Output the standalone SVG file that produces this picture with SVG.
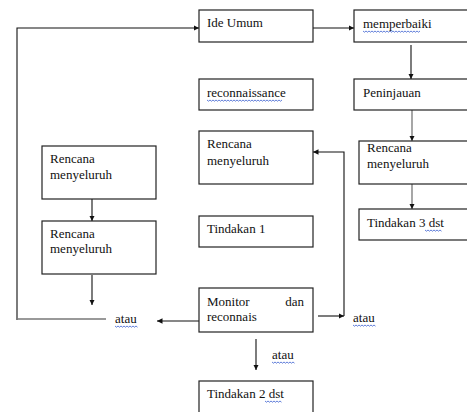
<svg xmlns="http://www.w3.org/2000/svg" width="467" height="412" viewBox="0 0 467 412">
<style>
.box{fill:#fff;stroke:#222;stroke-width:1.2}
.t{font-family:'Liberation Serif','DejaVu Serif',serif;font-size:13px;fill:#111}
.ln{fill:none;stroke:#111;stroke-width:1.1}
.gl{fill:none;stroke:#777;stroke-width:1.3}
.sp{fill:none;stroke:#3a5fd0;stroke-width:0.8}
</style>
<defs>
<marker id="ah" viewBox="0 0 10 10" refX="10" refY="5" markerWidth="5.5" markerHeight="5.5" markerUnits="userSpaceOnUse" orient="auto">
<path d="M0,0 L10,5 L0,10 z" fill="#111"/>
</marker>
</defs>
<rect width="467" height="412" fill="#fff"/>
<g id="connectors">
<path class="ln" d="M17,320 V28 H199" marker-end="url(#ah)"/>
<path class="gl" d="M17,319 H106"/>
<path class="ln" d="M313,28 H354" marker-end="url(#ah)"/>
<path class="ln" d="M411,45 V79" marker-end="url(#ah)"/>
<path class="gl" d="M412,104 V141" marker-end="url(#ah)"/>
<path class="gl" d="M412,180 V209" marker-end="url(#ah)"/>
<path class="ln" d="M92,199 V221" marker-end="url(#ah)"/>
<path class="ln" d="M92,275 V305" marker-end="url(#ah)"/>
<path class="ln" d="M199,321 H157" marker-end="url(#ah)"/>
<path class="ln" d="M318,316 H344" marker-end="url(#ah)"/>
<path class="ln" d="M344,316 V152 H313" marker-end="url(#ah)"/>
<path class="ln" d="M256,339 V370" marker-end="url(#ah)"/>
</g>
<g font-family="Liberation Serif, DejaVu Serif, serif">
<g id="ide-umum"><rect class="box" x="199" y="10" width="114" height="32"/><text class="t" x="207" y="27">Ide Umum</text></g>
<g id="memperbaiki"><rect class="box" x="354" y="10" width="120" height="32"/><text class="t" x="363" y="28">memperbaiki</text><path class="sp" d="M363,31 l1.5,1.2 l1.5,-1.2 l1.5,1.2 l1.5,-1.2 l1.5,1.2 l1.5,-1.2 l1.5,1.2 l1.5,-1.2 l1.5,1.2 l1.5,-1.2 l1.5,1.2 l1.5,-1.2 l1.5,1.2 l1.5,-1.2 l1.5,1.2 l1.5,-1.2 l1.5,1.2 l1.5,-1.2 l1.5,1.2 l1.5,-1.2 l1.5,1.2 l1.5,-1.2 l1.5,1.2 l1.5,-1.2 l1.5,1.2 l1.5,-1.2 l1.5,1.2 l1.5,-1.2 l1.5,1.2 l1.5,-1.2 l1.5,1.2 l1.5,-1.2 l1.5,1.2 l1.5,-1.2 l1.5,1.2 l1.5,-1.2 l1.5,1.2 l1.5,-1.2"/></g>
<g id="reconnaissance"><rect class="box" x="199" y="79" width="114" height="31"/><text class="t" x="207" y="96.5">reconnaissance</text><path class="sp" d="M207,100 l1.5,1.2 l1.5,-1.2 l1.5,1.2 l1.5,-1.2 l1.5,1.2 l1.5,-1.2 l1.5,1.2 l1.5,-1.2 l1.5,1.2 l1.5,-1.2 l1.5,1.2 l1.5,-1.2 l1.5,1.2 l1.5,-1.2 l1.5,1.2 l1.5,-1.2 l1.5,1.2 l1.5,-1.2 l1.5,1.2 l1.5,-1.2 l1.5,1.2 l1.5,-1.2 l1.5,1.2 l1.5,-1.2 l1.5,1.2 l1.5,-1.2 l1.5,1.2 l1.5,-1.2 l1.5,1.2 l1.5,-1.2 l1.5,1.2 l1.5,-1.2 l1.5,1.2 l1.5,-1.2 l1.5,1.2 l1.5,-1.2 l1.5,1.2 l1.5,-1.2 l1.5,1.2 l1.5,-1.2 l1.5,1.2 l1.5,-1.2 l1.5,1.2 l1.5,-1.2 l1.5,1.2 l1.5,-1.2 l1.5,1.2 l1.5,-1.2 l1.5,1.2 l1.5,-1.2"/></g>
<g id="peninjauan"><rect class="box" x="354" y="79" width="120" height="31"/><text class="t" x="363" y="96.5">Peninjauan</text></g>
<g id="rencana-tengah"><rect class="box" x="199" y="131" width="114" height="53"/><text class="t" x="207" y="148">Rencana</text><text class="t" x="207" y="165">menyeluruh</text></g>
<g id="rencana-kanan"><rect class="box" x="359" y="141" width="115" height="43"/><text class="t" x="367" y="152">Rencana</text><text class="t" x="367" y="168">menyeluruh</text></g>
<g id="tindakan-3"><rect class="box" x="359" y="209" width="115" height="31"/><text class="t" x="367" y="227">Tindakan 3 dst</text><path class="sp" d="M425,230 l1.5,1.2 l1.5,-1.2 l1.5,1.2 l1.5,-1.2 l1.5,1.2 l1.5,-1.2 l1.5,1.2 l1.5,-1.2 l1.5,1.2 l1.5,-1.2 l1.5,1.2"/></g>
<g id="rencana-kiri-1"><rect class="box" x="42" y="146" width="114" height="53"/><text class="t" x="50" y="163">Rencana</text><text class="t" x="50" y="179">menyeluruh</text></g>
<g id="rencana-kiri-2"><rect class="box" x="42" y="221" width="114" height="53"/><text class="t" x="50" y="238">Rencana</text><text class="t" x="50" y="253">menyeluruh</text></g>
<g id="tindakan-1"><rect class="box" x="199" y="216" width="114" height="31"/><text class="t" x="207" y="233">Tindakan 1</text></g>
<g id="monitor"><rect class="box" x="199" y="288" width="114" height="44"/><text class="t" x="207" y="305.5">Monitor</text><text class="t" x="304" y="305.5" text-anchor="end">dan</text><text class="t" x="207" y="320.5">reconnais</text></g>
<g id="tindakan-2"><rect class="box" x="199" y="381" width="114" height="40"/><text class="t" x="207" y="398">Tindakan 2 dst</text><path class="sp" d="M265,401 l1.5,1.2 l1.5,-1.2 l1.5,1.2 l1.5,-1.2 l1.5,1.2 l1.5,-1.2 l1.5,1.2 l1.5,-1.2 l1.5,1.2 l1.5,-1.2 l1.5,1.2"/></g>
<g id="atau-kiri"><text class="t" x="115" y="323">atau</text><path class="sp" d="M115,326 l1.5,1.2 l1.5,-1.2 l1.5,1.2 l1.5,-1.2 l1.5,1.2 l1.5,-1.2 l1.5,1.2 l1.5,-1.2 l1.5,1.2 l1.5,-1.2 l1.5,1.2 l1.5,-1.2 l1.5,1.2 l1.5,-1.2 l1.5,1.2"/></g>
<g id="atau-kanan"><text class="t" x="353" y="322">atau</text><path class="sp" d="M353,325 l1.5,1.2 l1.5,-1.2 l1.5,1.2 l1.5,-1.2 l1.5,1.2 l1.5,-1.2 l1.5,1.2 l1.5,-1.2 l1.5,1.2 l1.5,-1.2 l1.5,1.2 l1.5,-1.2 l1.5,1.2 l1.5,-1.2 l1.5,1.2"/></g>
<g id="atau-bawah"><text class="t" x="272" y="359">atau</text><path class="sp" d="M272,362 l1.5,1.2 l1.5,-1.2 l1.5,1.2 l1.5,-1.2 l1.5,1.2 l1.5,-1.2 l1.5,1.2 l1.5,-1.2 l1.5,1.2 l1.5,-1.2 l1.5,1.2 l1.5,-1.2 l1.5,1.2 l1.5,-1.2 l1.5,1.2"/></g>
</g>
</svg>
